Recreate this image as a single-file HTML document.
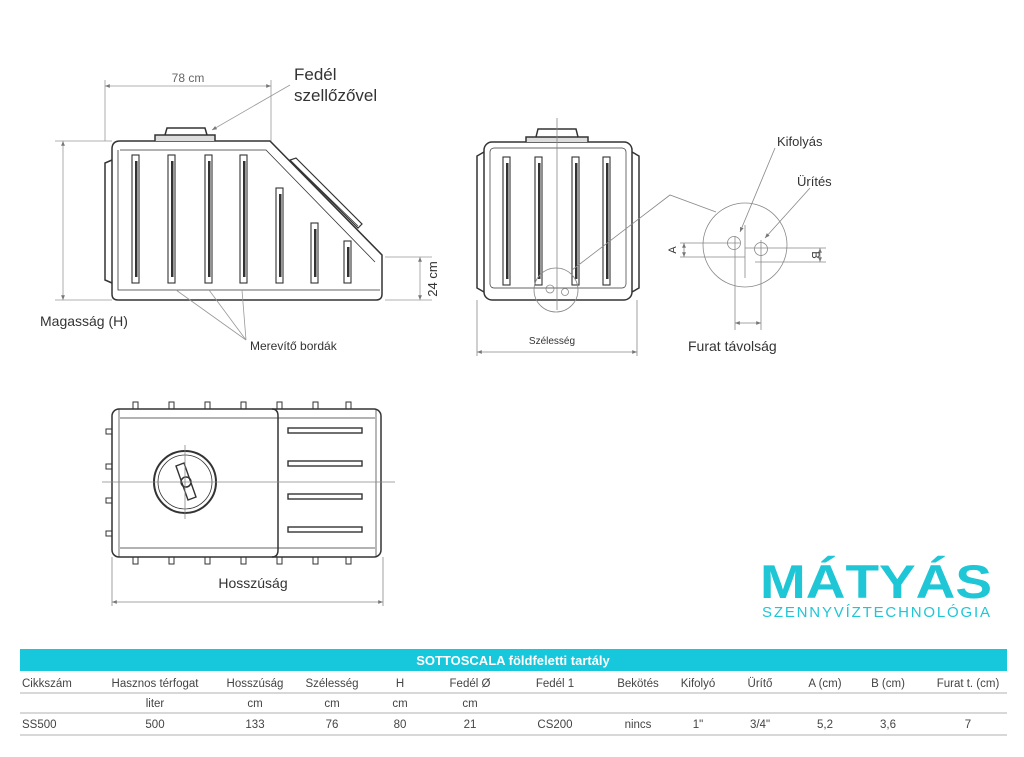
<!DOCTYPE html>
<html><head><meta charset="utf-8"><style>
html,body{margin:0;padding:0;background:#fff;}
svg{display:block;font-family:"Liberation Sans",sans-serif;}
</style></head><body>
<svg width="1024" height="757" viewBox="0 0 1024 757" xmlns="http://www.w3.org/2000/svg">
<defs>
<marker id="ar" viewBox="0 0 10 10" refX="10" refY="5" markerWidth="6" markerHeight="6" orient="auto-start-reverse"><path d="M0,1 L10,5 L0,9 z" fill="#777"/></marker>
</defs>
<g fill="none" stroke="#333" stroke-width="1.5">
<!-- SIDE VIEW -->
<path d="M120,141 L270,141 L382,255 L382,294 Q382,300 376,300 L118,300 Q112,300 112,294 L112,149 Q112,141 120,141 Z"/>
<path d="M118,150 L118,290 L380,290" stroke-width="0.8"/>
<path d="M120,150 L266,150 L375,262" stroke-width="0.8"/>
<path d="M112,160 L105,163 L105,280 L112,283"/>
<path d="M290,160 L358,228 L362,224 L296,158 Z" stroke-width="1.2"/>
<path d="M293,163 L358,226" stroke-width="0.8"/>
<path d="M155,141 L155,135 L215,135 L215,141" fill="#ddd"/>
<path d="M165,135 L167,128 L205,128 L207,135"/>
<g stroke-width="1.1">
<rect x="132" y="155" width="7" height="128"/><rect x="168" y="155" width="7" height="128"/>
<rect x="205" y="155" width="7" height="128"/><rect x="240" y="155" width="7" height="128"/>
<rect x="276" y="188" width="7" height="95"/><rect x="311" y="223" width="7" height="60"/>
<rect x="344" y="241" width="7" height="42"/>
</g>
<g fill="#333" stroke="none">
<rect x="135" y="161" width="2.5" height="116"/><rect x="171" y="161" width="2.5" height="116"/>
<rect x="208" y="161" width="2.5" height="116"/><rect x="243" y="161" width="2.5" height="116"/>
<rect x="279" y="194" width="2.5" height="83"/><rect x="314" y="229" width="2.5" height="48"/>
<rect x="347" y="247" width="2.5" height="30"/>
</g>
<g stroke="#999" stroke-width="0.8">
<line x1="105" y1="80" x2="105" y2="141"/><line x1="271" y1="80" x2="271" y2="141"/>
<line x1="105" y1="86" x2="271" y2="86" marker-start="url(#ar)" marker-end="url(#ar)"/>
<line x1="55" y1="141" x2="112" y2="141"/><line x1="55" y1="300" x2="112" y2="300"/>
<line x1="63" y1="141" x2="63" y2="300" marker-start="url(#ar)" marker-end="url(#ar)"/>
<line x1="385" y1="257" x2="432" y2="257"/><line x1="385" y1="300" x2="432" y2="300"/>
<line x1="420" y1="257" x2="420" y2="300" marker-start="url(#ar)" marker-end="url(#ar)"/>
<line x1="290" y1="85" x2="212" y2="130" marker-end="url(#ar)"/>
<line x1="246" y1="340" x2="176" y2="290"/><line x1="246" y1="340" x2="209" y2="290"/><line x1="246" y1="340" x2="242" y2="290"/>
</g>
<!-- FRONT VIEW -->
<rect x="484" y="142" width="148" height="158" rx="8"/>
<rect x="490" y="148" width="136" height="140" rx="4" stroke-width="0.7"/>
<path d="M484,152 L477,156 L477,288 L484,292"/><path d="M632,152 L639,156 L639,288 L632,292"/>
<path d="M526,142 L526,137 L588,137 L588,142" fill="#ddd"/>
<path d="M536,137 L538,129 L576,129 L578,137"/>
<g stroke-width="1.1">
<rect x="503" y="157" width="7" height="128"/><rect x="535" y="157" width="7" height="128"/>
<rect x="572" y="157" width="7" height="128"/><rect x="603" y="157" width="7" height="128"/>
</g>
<g fill="#333" stroke="none">
<rect x="506" y="163" width="2.5" height="116"/><rect x="538" y="163" width="2.5" height="116"/>
<rect x="575" y="163" width="2.5" height="116"/><rect x="606" y="163" width="2.5" height="116"/>
</g>
<g stroke="#888" stroke-width="0.8">
<line x1="557" y1="118" x2="557" y2="310"/>
<circle cx="556" cy="290" r="22"/>
<circle cx="550" cy="289" r="4"/><circle cx="565" cy="292" r="3.5"/>
<polyline points="572,270 670,195 716,212"/>
<circle cx="745" cy="245" r="42"/>
<circle cx="734" cy="243" r="6.5"/><circle cx="761" cy="249" r="6.5"/>
<line x1="745" y1="225" x2="745" y2="278"/>
<line x1="680" y1="243" x2="740" y2="243"/><line x1="680" y1="257" x2="745" y2="257"/>
<line x1="684" y1="243" x2="684" y2="257" marker-start="url(#ar)" marker-end="url(#ar)"/>
<line x1="745" y1="248" x2="826" y2="248"/><line x1="755" y1="262" x2="826" y2="262"/>
<line x1="820" y1="248" x2="820" y2="262" marker-start="url(#ar)" marker-end="url(#ar)"/>
<line x1="735" y1="236" x2="735" y2="330"/><line x1="761" y1="240" x2="761" y2="330"/>
<line x1="735" y1="323" x2="761" y2="323" marker-start="url(#ar)" marker-end="url(#ar)"/>
<line x1="775" y1="148" x2="740" y2="232" marker-end="url(#ar)"/>
<line x1="810" y1="188" x2="765" y2="238" marker-end="url(#ar)"/>
<line x1="477" y1="300" x2="477" y2="356"/><line x1="637" y1="300" x2="637" y2="356"/>
<line x1="477" y1="352" x2="637" y2="352" marker-start="url(#ar)" marker-end="url(#ar)"/>
</g>
<!-- TOP VIEW -->
<rect x="112" y="409" width="269" height="148" rx="7"/>
<line x1="120" y1="418" x2="375" y2="418" stroke-width="0.7"/><line x1="120" y1="548" x2="375" y2="548" stroke-width="0.7"/>
<line x1="119" y1="409" x2="119" y2="557" stroke-width="0.7"/><line x1="376" y1="409" x2="376" y2="557" stroke-width="0.7"/>
<path d="M272,409 Q278,409 278,416 L278,550 Q278,557 272,557" />
<circle cx="185" cy="482" r="31" stroke-width="2"/><circle cx="185" cy="482" r="27" stroke-width="0.8"/>
<path d="M176,466 L184,463 L196,497 L188,500 Z" stroke-width="1.4"/>
<circle cx="186" cy="482" r="5"/>
<g stroke-width="1.4">
<rect x="288" y="428" width="74" height="5"/><rect x="288" y="461" width="74" height="5"/>
<rect x="288" y="494" width="74" height="5"/><rect x="288" y="527" width="74" height="5"/>
</g>
<g stroke-width="1">
<path d="M133,409 V402 H138 V409 M169,409 V402 H174 V409 M205,409 V402 H210 V409 M241,409 V402 H246 V409 M277,409 V402 H282 V409 M313,409 V402 H318 V409 M346,409 V402 H351 V409"/>
<path d="M133,557 V564 H138 V557 M169,557 V564 H174 V557 M205,557 V564 H210 V557 M241,557 V564 H246 V557 M277,557 V564 H282 V557 M313,557 V564 H318 V557 M346,557 V564 H351 V557"/>
<path d="M112,429 H106 V434 H112 M112,464 H106 V469 H112 M112,498 H106 V503 H112 M112,531 H106 V536 H112"/>
</g>
<g stroke="#888" stroke-width="0.8">
<line x1="102" y1="482" x2="395" y2="482"/><line x1="185" y1="445" x2="185" y2="519"/>
<line x1="112" y1="557" x2="112" y2="606"/><line x1="383" y1="557" x2="383" y2="606"/>
<line x1="112" y1="602" x2="383" y2="602" marker-start="url(#ar)" marker-end="url(#ar)"/>
</g>
</g>
<!-- LABELS -->
<g fill="#333">
<text x="188" y="82" font-size="12" text-anchor="middle" fill="#666">78 cm</text>
<text x="294" y="80" font-size="17">Fedél</text>
<text x="294" y="101" font-size="17">szellőzővel</text>
<text x="40" y="326" font-size="14">Magasság (H)</text>
<text x="250" y="350" font-size="12">Merevítő bordák</text>
<text transform="translate(437,279) rotate(-90)" font-size="13" text-anchor="middle">24 cm</text>
<text x="777" y="146" font-size="13">Kifolyás</text>
<text x="797" y="186" font-size="13">Ürítés</text>
<text transform="translate(676,250) rotate(-90)" font-size="11" text-anchor="middle">A</text>
<text transform="translate(812,255) rotate(90)" font-size="11" text-anchor="middle">B</text>
<text x="688" y="351" font-size="14">Furat távolság</text>
<text x="552" y="344" font-size="10" text-anchor="middle">Szélesség</text>
<text x="253" y="588" font-size="14" text-anchor="middle">Hosszúság</text>
</g>
<!-- LOGO -->
<text x="760" y="598" font-size="47" font-weight="bold" fill="#1ec6d6" textLength="232" lengthAdjust="spacingAndGlyphs">MÁTYÁS</text>
<text x="762" y="617" font-size="15" fill="#1ec6d6" textLength="228" lengthAdjust="spacing">SZENNYVÍZTECHNOLÓGIA</text>
<!-- TABLE -->
<rect x="20" y="649" width="987" height="22" fill="#17c7dc"/>
<text x="513" y="665" font-size="13" font-weight="bold" fill="#fff" text-anchor="middle">SOTTOSCALA földfeletti tartály</text>
<g stroke="#999" stroke-width="0.8"><line x1="20" y1="693" x2="1007" y2="693"/><line x1="20" y1="713" x2="1007" y2="713"/><line x1="20" y1="735" x2="1007" y2="735"/></g>
<g font-size="11.5" fill="#444" text-anchor="middle">
<text x="22" y="687" text-anchor="start">Cikkszám</text><text x="155" y="687">Hasznos térfogat</text><text x="255" y="687">Hosszúság</text><text x="332" y="687">Szélesség</text><text x="400" y="687">H</text><text x="470" y="687">Fedél Ø</text><text x="555" y="687">Fedél 1</text><text x="638" y="687">Bekötés</text><text x="698" y="687">Kifolyó</text><text x="760" y="687">Ürítő</text><text x="825" y="687">A (cm)</text><text x="888" y="687">B (cm)</text><text x="968" y="687">Furat t. (cm)</text>
<text x="155" y="707">liter</text><text x="255" y="707">cm</text><text x="332" y="707">cm</text><text x="400" y="707">cm</text><text x="470" y="707">cm</text>
<text x="22" y="728" text-anchor="start">SS500</text><text x="155" y="728">500</text><text x="255" y="728">133</text><text x="332" y="728">76</text><text x="400" y="728">80</text><text x="470" y="728">21</text><text x="555" y="728">CS200</text><text x="638" y="728">nincs</text><text x="698" y="728">1"</text><text x="760" y="728">3/4"</text><text x="825" y="728">5,2</text><text x="888" y="728">3,6</text><text x="968" y="728">7</text>
</g>
</svg>
</body></html>
